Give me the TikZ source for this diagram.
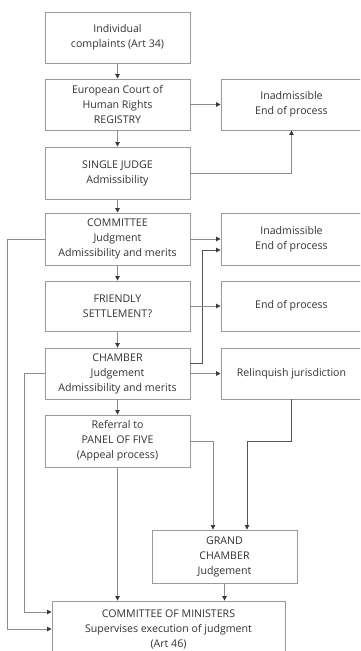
\documentclass[tikz,border=0pt]{standalone}
\usepackage{fontspec}
\setmainfont{Open Sans}
\usetikzlibrary{arrows.meta}
\definecolor{boxgray}{HTML}{9A9A9A}
\definecolor{linegray}{HTML}{8C8C8C}
\definecolor{darkline}{HTML}{555555}
\definecolor{tipcol}{HTML}{3A3A3A}
\definecolor{txtgray}{HTML}{333333}
\tikzset{
  box/.style={draw=boxgray, line width=0.9pt, minimum width=145pt, minimum height=51pt,
    align=center, inner sep=0pt, text=txtgray, font=\fontsize{10.6}{15}\selectfont},
  rbox/.style={box, minimum width=141pt},
  arr/.style={draw=linegray, line width=0.9pt, -{Triangle[length=4.5pt,width=4.5pt,color=tipcol]}},
  darr/.style={arr, draw=darkline}
}
\begin{document}
\begin{tikzpicture}[x=1pt,y=-1pt]
\useasboundingbox (0,0) rectangle (360,651);
\clip (0,0) rectangle (360,651);
\fill[white] (0,0) rectangle (360,651);
% left column
\node[box] (ind) at (117.5,37.5) {Individual\\complaints (Art 34)};
\node[box] (reg) at (117.5,104.5) {European Court of\\Human Rights\\REGISTRY};
\node[box, minimum height=52pt] (sj) at (117.5,173) {SINGLE JUDGE\\Admissibility};
\node[box, minimum height=52pt] (com) at (117.5,239) {COMMITTEE\\Judgment\\Admissibility and merits};
\node[box, minimum height=50pt] (fs) at (117.5,306) {FRIENDLY\\SETTLEMENT?};
\node[box] (ch) at (117.5,373.5) {CHAMBER\\Judgement\\Admissibility and merits};
\node[box, minimum height=52pt] (pan) at (117.5,441) {Referral to\\PANEL OF FIVE\\(Appeal process)};
\node[box, minimum height=53pt] (gc) at (224.5,556.5) {GRAND\\CHAMBER\\Judgement};
\node[box, minimum width=233pt, minimum height=56pt] (cm) at (168.5,629) {COMMITTEE OF MINISTERS\\Supervises execution of judgment\\(Art 46)};
% right column
\node[rbox] (in1) at (291.5,104.5) {Inadmissible\\End of process};
\node[rbox, minimum height=52pt] (in2) at (291.5,239) {Inadmissible\\End of process};
\node[rbox, minimum height=50pt] (eop) at (291.5,306) {End of process};
\node[rbox] (rel) at (291.5,373.5) {Relinquish jurisdiction};
% vertical chain
\draw[arr] (ind) -- (reg);
\draw[arr] (reg) -- (sj);
\draw[arr] (sj) -- (com);
\draw[arr] (com) -- (fs);
\draw[arr] (fs) -- (ch);
\draw[arr] (ch) -- (pan);
% to the right
\draw[arr] (reg.east) -- (in1.west);
\draw[arr] (sj.east) -| (in1.south);
\draw[arr] (com.east) -- (in2.west);
\draw[darr] ([yshift=10pt]ch.east) -- ++(12,0) |- ([yshift=-11pt]in2.west);
\draw[arr] (fs.east) -- (eop.west);
\draw[arr] (ch.east) -- (rel.west);
% left bypass lines
\coordinate (xo) at (7.5,0);
\coordinate (xi) at (24.5,0);
\draw[arr] (com.west) -| (xo|-cm.west) -- (cm.west);
\coordinate (cmi) at ([yshift=17pt]cm.west);
\draw[arr] (ch.west) -| (xi|-cmi) -- (cmi);
% to committee of ministers / grand chamber
\draw[arr] (pan.south) -- (pan.south|-cm.north);
\coordinate (gk1) at ([xshift=-11.5pt]gc.north);
\coordinate (gk2) at ([xshift=22.5pt]gc.north);
\draw[arr] (pan.east) -| (gk1);
\draw[darr] (rel.south) |- (gk2|-pan.east) -- (gk2);
\draw[arr] (gc.south) -- (gc.south|-cm.north);
\end{tikzpicture}
\end{document}
